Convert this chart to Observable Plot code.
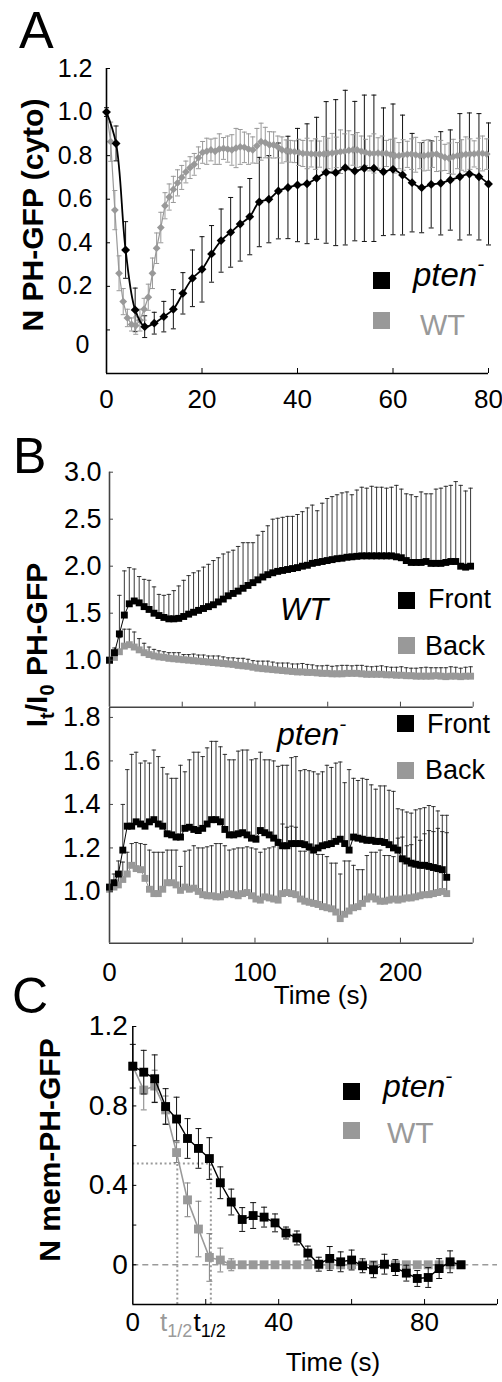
<!DOCTYPE html>
<html><head><meta charset="utf-8">
<script src="https://cdn.jsdelivr.net/npm/d3@7"></script>
<script src="https://cdn.jsdelivr.net/npm/@observablehq/plot@0.6"></script>
<style>
body{margin:0;background:#fff;}
#fig{position:relative;width:502px;height:1382px;overflow:hidden;background:#fff;}
</style></head><body><div id="fig"></div>
<script>
// ================= DATA =================
// ---- Panel A: N PH-GFP (cyto) ----
const aPtenTime = [0,2,4,6,8,10,12,14,16,18,20,22,24,26,28,30,32,34,36,38,40,42,44,46,48,50,52,54,56,58,60,62,64,66,68,70,72,74,76,78,80];
const aPtenMean = [1.0,0.856,0.367,0.092,0.015,0.031,0.061,0.095,0.168,0.237,0.278,0.349,0.41,0.448,0.486,0.52,0.587,0.60,0.638,0.654,0.665,0.671,0.696,0.723,0.722,0.745,0.729,0.742,0.742,0.726,0.737,0.711,0.676,0.653,0.668,0.673,0.688,0.703,0.716,0.703,0.67];
const aPtenErr = [0.02,0.08,0.13,0.10,0.05,0.05,0.07,0.09,0.095,0.13,0.15,0.13,0.145,0.16,0.17,0.175,0.205,0.20,0.22,0.235,0.26,0.275,0.28,0.325,0.335,0.355,0.32,0.336,0.336,0.293,0.30,0.275,0.226,0.207,0.20,0.237,0.23,0.29,0.28,0.29,0.28];
const aWtStep = 0.875; // sampling interval (s)
const aWtMean = [1.0,0.864,0.55,0.26,0.13,0.055,0.025,0.02,0.045,0.095,
 0.15,0.26,0.375,0.47,0.57,0.61,0.645,0.675,0.70,0.725,
 0.745,0.76,0.79,0.815,0.82,0.826,0.82,0.83,0.833,0.83,
 0.826,0.835,0.84,0.838,0.83,0.826,0.845,0.864,0.86,0.85,
 0.849,0.84,0.826,0.822,0.82,0.818,0.815,0.81,0.81,0.808,
 0.807,0.807,0.808,0.81,0.812,0.815,0.818,0.82,0.824,0.826,
 0.826,0.82,0.815,0.81,0.81,0.812,0.81,0.81,0.805,0.80,
 0.80,0.803,0.806,0.807,0.804,0.80,0.80,0.803,0.806,0.807,
 0.80,0.792,0.788,0.795,0.80,0.803,0.806,0.807,0.808,0.81,
 0.81,0.807];
const aWtErr = [0.0,0.09,0.09,0.08,0.06,0.04,0.03,0.04,0.05,0.05,
 0.06,0.07,0.07,0.07,0.06,0.06,0.06,0.06,0.055,0.05,
 0.05,0.05,0.05,0.05,0.06,0.05,0.06,0.07,0.05,0.06,
 0.07,0.09,0.08,0.07,0.07,0.06,0.08,0.085,0.07,0.06,
 0.06,0.05,0.06,0.05,0.05,0.05,0.06,0.06,0.07,0.06,
 0.07,0.06,0.08,0.07,0.09,0.07,0.10,0.08,0.09,0.07,
 0.08,0.07,0.06,0.08,0.09,0.07,0.08,0.06,0.07,0.08,
 0.06,0.07,0.06,0.07,0.08,0.06,0.07,0.07,0.06,0.08,
 0.07,0.06,0.07,0.08,0.06,0.07,0.08,0.07,0.06,0.07,
 0.08,0.07];
const aXDomain = [0, 80];
const aYDomain = [-0.2, 1.2];
const aXTickMarks = [20, 40, 60, 80];
const aXTickLabels = [0, 20, 40, 60, 80];
const aYTickMarks = [0, 0.2, 0.4, 0.6, 0.8, 1.0, 1.2];
const aYTickLabels = [0.2, 0.4, 0.6, 0.8, 1.0, 1.2];
const aYZeroLabel = [0];

// ---- Panel B: It/I0 PH-GFP ----
const bWtStep = 3.4;
const bWtFront = [1.00,1.08,1.28,1.48,1.60,1.63,1.61,1.57,1.54,1.50,
 1.475,1.455,1.44,1.44,1.445,1.465,1.49,1.51,1.53,1.55,
 1.57,1.59,1.62,1.65,1.685,1.71,1.735,1.765,1.795,1.825,
 1.855,1.885,1.91,1.93,1.945,1.955,1.965,1.975,1.985,2.0,
 2.01,2.03,2.04,2.05,2.06,2.07,2.08,2.085,2.095,2.10,
 2.105,2.11,2.11,2.11,2.11,2.11,2.11,2.11,2.10,2.09,
 2.06,2.04,2.04,2.04,2.05,2.03,2.03,2.03,2.04,2.05,
 2.05,2.0,1.99,2.0];
const bWtFrontErr = [0.02,0.05,0.41,0.47,0.385,0.34,0.28,0.29,0.31,0.28,
 0.225,0.235,0.26,0.30,0.345,0.385,0.41,0.42,0.42,0.44,
 0.45,0.47,0.47,0.48,0.465,0.46,0.475,0.485,0.455,0.425,
 0.475,0.485,0.52,0.57,0.565,0.565,0.565,0.555,0.565,0.58,
 0.61,0.62,0.55,0.62,0.66,0.67,0.68,0.695,0.695,0.66,
 0.705,0.73,0.72,0.74,0.73,0.73,0.72,0.73,0.76,0.73,
 0.71,0.72,0.70,0.75,0.72,0.74,0.79,0.80,0.81,0.81,
 0.85,0.86,0.81,0.83];
const bWtBack = [1.0,1.03,1.09,1.15,1.165,1.14,1.11,1.08,1.06,1.045,
 1.035,1.03,1.02,1.015,1.01,1.005,1.0,0.995,0.99,0.985,
 0.98,0.975,0.97,0.965,0.96,0.955,0.945,0.94,0.935,0.925,
 0.915,0.91,0.905,0.9,0.895,0.89,0.885,0.88,0.875,0.875,
 0.87,0.87,0.865,0.86,0.86,0.855,0.855,0.855,0.86,0.86,
 0.86,0.855,0.85,0.85,0.85,0.85,0.845,0.845,0.84,0.84,
 0.835,0.835,0.83,0.83,0.83,0.83,0.835,0.83,0.825,0.83,
 0.83,0.825,0.83,0.83];
const bWtBackErr = [0.02,0.05,0.15,0.18,0.165,0.16,0.12,0.10,0.08,0.07,
 0.065,0.06,0.06,0.065,0.07,0.055,0.06,0.07,0.065,0.07,
 0.065,0.07,0.075,0.07,0.065,0.07,0.075,0.08,0.075,0.07,
 0.075,0.08,0.085,0.08,0.075,0.08,0.085,0.08,0.085,0.09,
 0.085,0.08,0.075,0.08,0.085,0.08,0.085,0.09,0.085,0.08,
 0.085,0.09,0.085,0.08,0.085,0.09,0.085,0.08,0.085,0.09,
 0.085,0.08,0.085,0.09,0.095,0.09,0.085,0.09,0.095,0.1,
 0.095,0.09,0.095,0.1];
const bPtenStep = 3.05;
const bPtenFront = [1.02,1.04,1.08,1.19,1.30,1.30,1.32,1.31,1.30,1.32,
 1.33,1.31,1.30,1.265,1.26,1.25,1.25,1.29,1.295,1.285,
 1.28,1.29,1.31,1.33,1.33,1.32,1.285,1.26,1.26,1.265,
 1.27,1.26,1.245,1.24,1.28,1.27,1.26,1.245,1.225,1.21,
 1.21,1.22,1.22,1.22,1.215,1.205,1.19,1.20,1.21,1.215,
 1.22,1.23,1.24,1.22,1.19,1.25,1.245,1.24,1.235,1.235,
 1.23,1.23,1.225,1.215,1.20,1.19,1.15,1.14,1.13,1.125,
 1.12,1.12,1.115,1.11,1.105,1.10,1.065];
const bPtenFrontErr = [0.01,0.04,0.06,0.21,0.26,0.33,0.32,0.28,0.30,0.27,
 0.32,0.31,0.27,0.275,0.26,0.27,0.33,0.26,0.31,0.355,
 0.36,0.33,0.35,0.36,0.36,0.345,0.345,0.345,0.345,0.38,
 0.38,0.39,0.36,0.37,0.36,0.335,0.345,0.355,0.35,0.37,
 0.37,0.395,0.40,0.335,0.345,0.35,0.36,0.34,0.34,0.365,
 0.35,0.36,0.355,0.28,0.37,0.27,0.265,0.28,0.28,0.255,
 0.24,0.255,0.26,0.25,0.26,0.19,0.225,0.225,0.23,0.25,
 0.26,0.265,0.28,0.28,0.265,0.25,0.285];
const bPtenBack = [1.01,1.02,1.03,1.055,1.08,1.12,1.105,1.10,1.06,1.01,
 0.99,0.99,1.01,1.04,1.04,1.03,1.005,1.02,1.01,1.015,
 1.0,0.985,0.98,0.98,0.975,0.975,0.985,0.99,0.985,0.98,
 0.99,0.995,0.98,0.965,0.96,0.975,0.97,0.965,0.96,0.99,
 0.995,0.99,0.985,0.965,0.955,0.95,0.945,0.94,0.93,0.925,
 0.92,0.905,0.875,0.895,0.91,0.925,0.93,0.945,0.965,0.975,
 0.965,0.955,0.955,0.96,0.965,0.96,0.965,0.97,0.97,0.975,
 0.98,0.985,0.985,0.99,0.995,1.0,0.99];
const bPtenBackErr = [0.02,0.03,0.05,0.08,0.10,0.10,0.12,0.12,0.156,0.18,
 0.19,0.19,0.17,0.15,0.15,0.16,0.11,0.165,0.18,0.195,
 0.20,0.215,0.225,0.23,0.245,0.245,0.225,0.20,0.21,0.22,
 0.21,0.21,0.22,0.23,0.22,0.22,0.23,0.24,0.28,0.32,
 0.30,0.31,0.31,0.22,0.23,0.24,0.24,0.23,0.24,0.235,
 0.21,0.225,0.205,0.245,0.23,0.195,0.17,0.155,0.20,0.205,
 0.215,0.235,0.21,0.205,0.195,0.285,0.285,0.24,0.245,0.275,
 0.255,0.28,0.295,0.285,0.295,0.275,0.28];
const bXDomain = [0, 250];
const bTopYDomain = [0.5, 3.0];
const bBotYDomain = [0.762, 1.841];
const bTopYTicks = [1.0, 1.5, 2.0, 2.5, 3.0];
const bBotYTicks = [1.0, 1.2, 1.4, 1.6, 1.8];
const bXTickMarks = [50, 100, 150, 200, 250];
const bXTickLabels = [0, 100, 200];

// ---- Panel C: N mem-PH-GFP ----
const cTime = [0,3,6,9,12,15,18,21,24,27,30,33,36,39,42,45,48,51,54,57,60,63,66,69,72,75,78,81,84,87,90];
const cPtenMean = [1.0,0.97,0.937,0.797,0.734,0.636,0.586,0.535,0.413,0.316,0.228,0.248,0.24,0.211,0.16,0.135,0.059,0.003,0.032,0.015,0.024,-0.005,-0.025,0.003,-0.014,-0.042,-0.069,-0.064,-0.019,0.015,0.0];
const cPtenErr = [0.11,0.11,0.12,0.09,0.11,0.1,0.1,0.105,0.08,0.065,0.06,0.065,0.05,0.045,0.03,0.035,0.035,0.035,0.06,0.05,0.05,0.035,0.04,0.05,0.04,0.04,0.04,0.05,0.05,0.055,0.015];
const cWtMean = [1.0,0.88,0.90,0.78,0.565,0.327,0.18,0.037,0.024,0.0,0,0,0,0,0,0,0,0,0,0,0,0,0,0,0,0,0,0,0,0,0];
const cWtErr = [0.0,0.1,0.08,0.07,0.05,0.085,0.14,0.12,0.06,0.03,0.01,0.01,0.01,0.01,0.01,0.01,0.01,0.01,0.01,0.01,0.01,0.01,0.01,0.01,0.01,0.01,0.01,0.01,0.01,0.01,0.01];
const cHalfLevel = 0.51;
const cHalfTimes = [12.2, 21.4];           // WT, pten
const cHalfColors = ["#9a9a9a", "#000000"];
const cXDomain = [0, 100];
const cYDomain = [-0.2, 1.2];
const cXTickMarks = [20, 40, 60, 80, 100];
const cXTickLabels = [0, 40, 80];
const cYTickMarks = [0, 0.2, 0.4, 0.6, 0.8, 1.0, 1.2];
const cYTickLabels = [0, 0.4, 0.8, 1.2];

// ================= DRAWING =================
const FONT = "'Liberation Sans', Arial, Helvetica, sans-serif";
const GRAY = "#999999";
const W = 502;
const fig = document.getElementById("fig");

const cap = {draw(ctx, size) { const r = Math.sqrt(size / Math.PI); ctx.moveTo(-r, 0); ctx.lineTo(r, 0); }};

function rows(times, mean, err) { return mean.map((v, i) => ({t: times[i], v, e: err[i]})); }
function rowsStep(step, mean, err) { return mean.map((v, i) => ({t: i * step, v, e: err[i]})); }

function errBars(data, color, capR, both, width = 1) {
  const m = [
    Plot.ruleX(data, {x: "t", y1: d => both ? d.v - d.e : d.v, y2: d => d.v + d.e, stroke: color, strokeWidth: width}),
    Plot.dot(data, {x: "t", y: d => d.v + d.e, symbol: cap, r: capR, stroke: color, fill: "none", strokeWidth: width})
  ];
  if (both) m.push(Plot.dot(data, {x: "t", y: d => d.v - d.e, symbol: cap, r: capR, stroke: color, fill: "none", strokeWidth: width}));
  return m;
}
function margins(f, top, h) {
  return {marginLeft: f.left, marginRight: W - f.right, marginTop: f.top - top, marginBottom: top + h - f.bottom};
}
function place(svg, top) {
  svg.style.position = "absolute"; svg.style.left = "0px"; svg.style.top = top + "px";
  fig.appendChild(svg);
}
const yTickMarks = (ticks, color) => Plot.axisY({ticks, tickSize: -4, fill: "none", stroke: color, label: null});
const xTickMarks = (ticks, color) => Plot.axisX({ticks, tickSize: -5, fill: "none", stroke: color, label: null});
// tick labels as text marks anchored to the frame edge (explicit font size)
const yTickText = (ticks, fmt, size, pad, dy = 0) => Plot.text(ticks, {y: d => d, frameAnchor: "left", text: fmt, textAnchor: "end", dx: -pad, dy, fontSize: size, fill: "#000"});
const xTickText = (ticks, fmt, size, pad) => Plot.text(ticks, {x: d => d, frameAnchor: "bottom", text: fmt, textAnchor: "middle", lineAnchor: "top", dy: pad, fontSize: size, fill: "#000"});
const fmt1 = d3.format(".1f");
const baseStyle = {fontFamily: FONT, fontSize: "24px", background: "transparent", color: "#000"};

// ---- Panel A ----
{
  const top = 0, h = 430;
  const f = {left: 106, right: 488, top: 68, bottom: 373};
  const pten = rows(aPtenTime, aPtenMean, aPtenErr);
  const wt = rowsStep(aWtStep, aWtMean, aWtErr);
  const svg = Plot.plot({
    width: W, height: h, ...margins(f, top, h), style: baseStyle,
    x: {domain: aXDomain, label: null}, y: {domain: aYDomain, label: null},
    marks: [
      ...errBars(pten, "#111", 2.5, true),
      ...errBars(wt, GRAY, 2.5, true),
      Plot.line(wt, {x: "t", y: "v", stroke: GRAY, strokeWidth: 1.2}),
      Plot.dot(wt, {x: "t", y: "v", symbol: "diamond2", r: 3.5, fill: GRAY, stroke: "none"}),
      Plot.line(pten, {x: "t", y: "v", stroke: "#000", strokeWidth: 1.8, curve: "catmull-rom"}),
      Plot.dot(pten, {x: "t", y: "v", symbol: "diamond2", r: 4, fill: "#000", stroke: "none"}),
      Plot.ruleX([aXDomain[0]], {stroke: "#000", strokeWidth: 1.6}),
      Plot.ruleY([aYDomain[0]], {stroke: "#000", strokeWidth: 1.6}),
      yTickMarks(aYTickMarks, "#000"),
      xTickMarks(aXTickMarks, "#000"),
      yTickText(aYTickLabels, fmt1, 25, 14),
      yTickText(aYZeroLabel, () => "0", 25, 17, 15),
      xTickText(aXTickLabels, d => String(d), 26, 16)
    ]
  });
  place(svg, top);
}

// ---- Panel B (top: WT) ----
{
  const top = 440, h = 275;
  const f = {left: 109, right: 472.7, top: 471.7, bottom: 706.7};
  const front = rowsStep(bWtStep, bWtFront, bWtFrontErr);
  const back = rowsStep(bWtStep, bWtBack, bWtBackErr);
  const svg = Plot.plot({
    width: W, height: h, ...margins(f, top, h), style: baseStyle,
    x: {domain: bXDomain, label: null}, y: {domain: bTopYDomain, label: null},
    marks: [
      ...errBars(back, "#222", 2.2, false, 0.9),
      ...errBars(front, "#222", 2.2, false, 0.9),
      Plot.line(back, {x: "t", y: "v", stroke: GRAY, strokeWidth: 1}),
      Plot.dot(back, {x: "t", y: "v", symbol: "square", r: 3.9, fill: GRAY, stroke: "none"}),
      Plot.line(front, {x: "t", y: "v", stroke: "#000", strokeWidth: 1}),
      Plot.dot(front, {x: "t", y: "v", symbol: "square", r: 3.9, fill: "#000", stroke: "none"}),
      Plot.ruleX([bXDomain[0]], {stroke: "#444", strokeWidth: 1.6}),
      Plot.ruleY([bTopYDomain[0]], {stroke: "#444", strokeWidth: 1.6}),
      yTickMarks(bTopYTicks, "#444"),
      xTickMarks(bXTickMarks, "#444"),
      yTickText(bTopYTicks, fmt1, 27, 8)
    ]
  });
  place(svg, top);
}

// ---- Panel B (bottom: pten-) ----
{
  const top = 700, h = 300;
  const f = {left: 109, right: 472.7, top: 708, bottom: 942.7};
  const front = rowsStep(bPtenStep, bPtenFront, bPtenFrontErr);
  const back = rowsStep(bPtenStep, bPtenBack, bPtenBackErr);
  const svg = Plot.plot({
    width: W, height: h, ...margins(f, top, h), style: baseStyle,
    x: {domain: bXDomain, label: null}, y: {domain: bBotYDomain, label: null},
    marks: [
      ...errBars(back, "#222", 2.2, false, 0.9),
      ...errBars(front, "#222", 2.2, false, 0.9),
      Plot.line(back, {x: "t", y: "v", stroke: GRAY, strokeWidth: 1}),
      Plot.dot(back, {x: "t", y: "v", symbol: "square", r: 3.9, fill: GRAY, stroke: "none"}),
      Plot.line(front, {x: "t", y: "v", stroke: "#000", strokeWidth: 1}),
      Plot.dot(front, {x: "t", y: "v", symbol: "square", r: 3.9, fill: "#000", stroke: "none"}),
      Plot.ruleX([bXDomain[0]], {stroke: "#444", strokeWidth: 1.6}),
      Plot.ruleY([bBotYDomain[0]], {stroke: "#444", strokeWidth: 1.6}),
      yTickMarks(bBotYTicks, "#444"),
      xTickMarks(bXTickMarks, "#444"),
      yTickText(bBotYTicks, fmt1, 27, 9),
      xTickText(bXTickLabels, d => String(d), 26, 19)
    ]
  });
  place(svg, top);
}

// ---- Panel C ----
{
  const top = 1010, h = 372;
  const f = {left: 132.3, right: 497, top: 1026, bottom: 1304};
  const pten = rows(cTime, cPtenMean, cPtenErr);
  const wt = rows(cTime, cWtMean, cWtErr);
  const halves = cHalfTimes.map((t, i) => ({t, c: cHalfColors[i]}));
  const svg = Plot.plot({
    width: W, height: h, ...margins(f, top, h), style: baseStyle,
    x: {domain: cXDomain, label: null}, y: {domain: cYDomain, label: null},
    marks: [
      Plot.ruleY([0], {stroke: "#9a9a9a", strokeWidth: 1.4, strokeDasharray: "6,4"}),
      Plot.ruleY([cHalfLevel], {x1: cXDomain[0], x2: d3.max(cHalfTimes), stroke: "#9a9a9a", strokeWidth: 2, strokeDasharray: "2,2.6"}),
      Plot.ruleX(halves, {x: "t", y1: cYDomain[0], y2: cHalfLevel, stroke: "#9a9a9a", strokeWidth: 2, strokeDasharray: "2,2.6"}),
      ...errBars(wt, "#808080", 3, true),
      Plot.line(wt, {x: "t", y: "v", stroke: GRAY, strokeWidth: 1.6}),
      Plot.dot(wt, {x: "t", y: "v", symbol: "square", r: 5, fill: GRAY, stroke: "none"}),
      ...errBars(pten, "#111", 3, true),
      Plot.line(pten, {x: "t", y: "v", stroke: "#000", strokeWidth: 1.4}),
      Plot.dot(pten, {x: "t", y: "v", symbol: "square", r: 5, fill: "#000", stroke: "none"}),
      Plot.ruleX([cXDomain[0]], {stroke: "#000", strokeWidth: 1.5}),
      Plot.ruleY([cYDomain[0]], {stroke: "#000", strokeWidth: 1.5}),
      yTickMarks(cYTickMarks, "#000"),
      xTickMarks(cXTickMarks, "#000"),
      yTickText(cYTickLabels, d => d === 0 ? "0" : fmt1(d), 28, 5),
      xTickText(cXTickLabels, d => String(d), 26, 8),
      Plot.text(halves, {x: "t", frameAnchor: "bottom", text: () => "t", fill: "c", fontSize: 26, textAnchor: "end", lineAnchor: "bottom", dx: -10, dy: 26}),
      Plot.text(halves, {x: "t", frameAnchor: "bottom", text: () => "1/2", fill: "c", fontSize: 18, textAnchor: "start", lineAnchor: "bottom", dx: -10, dy: 32})
    ]
  });
  place(svg, top);
}

// ---- Text overlay: panel letters, axis titles, legends ----
const ov = `
<svg xmlns="http://www.w3.org/2000/svg" width="502" height="1382" style="position:absolute;left:0;top:0;font-family:${FONT}">
  <text x="19" y="48" font-size="52">A</text>
  <text x="13" y="473" font-size="50">B</text>
  <text x="12" y="1013" font-size="50">C</text>

  <text transform="translate(43,215) rotate(-90)" text-anchor="middle" font-weight="bold" font-size="30">N PH-GFP (cyto)</text>
  <text transform="translate(47,645) rotate(-90)" text-anchor="middle" font-weight="bold" font-size="30">I<tspan font-size="20" dy="7">t</tspan><tspan dy="-7">/I</tspan><tspan font-size="20" dy="7">0</tspan><tspan dy="-7"> PH-GFP</tspan></text>
  <text transform="translate(60,1150) rotate(-90)" text-anchor="middle" font-weight="bold" font-size="30">N mem-PH-GFP</text>

  <rect x="373" y="272" width="17" height="17" fill="#000"/>
  <text x="413" y="286" font-size="33" font-style="italic">pten<tspan dy="-15" font-size="21">-</tspan></text>
  <rect x="373" y="312" width="17" height="17" fill="${GRAY}"/>
  <text x="420" y="335" font-size="29" fill="${GRAY}">WT</text>

  <text x="280" y="620" font-size="31" font-style="italic">WT</text>
  <rect x="398" y="592" width="17" height="17" fill="#000"/>
  <text x="428" y="608" font-size="27">Front</text>
  <rect x="398" y="637" width="17" height="17" fill="${GRAY}"/>
  <text x="425" y="655" font-size="27">Back</text>

  <text x="277" y="745" font-size="32" font-style="italic">pten<tspan dy="-14" font-size="21">-</tspan></text>
  <rect x="397" y="715" width="17" height="17" fill="#000"/>
  <text x="427" y="733" font-size="27">Front</text>
  <rect x="397" y="762" width="17" height="17" fill="${GRAY}"/>
  <text x="425" y="779" font-size="27">Back</text>

  <text x="321" y="1004" font-size="26" text-anchor="middle">Time (s)</text>

  <rect x="343" y="1083" width="17" height="17" fill="#000"/>
  <text x="383" y="1097" font-size="32" font-style="italic">pten<tspan dy="-14" font-size="21">-</tspan></text>
  <rect x="343" y="1122" width="17" height="17" fill="${GRAY}"/>
  <text x="387" y="1143" font-size="30" fill="${GRAY}">WT</text>

  <text x="333" y="1371" font-size="26" text-anchor="middle">Time (s)</text>
</svg>`;
fig.insertAdjacentHTML("beforeend", ov);
</script></body></html>
